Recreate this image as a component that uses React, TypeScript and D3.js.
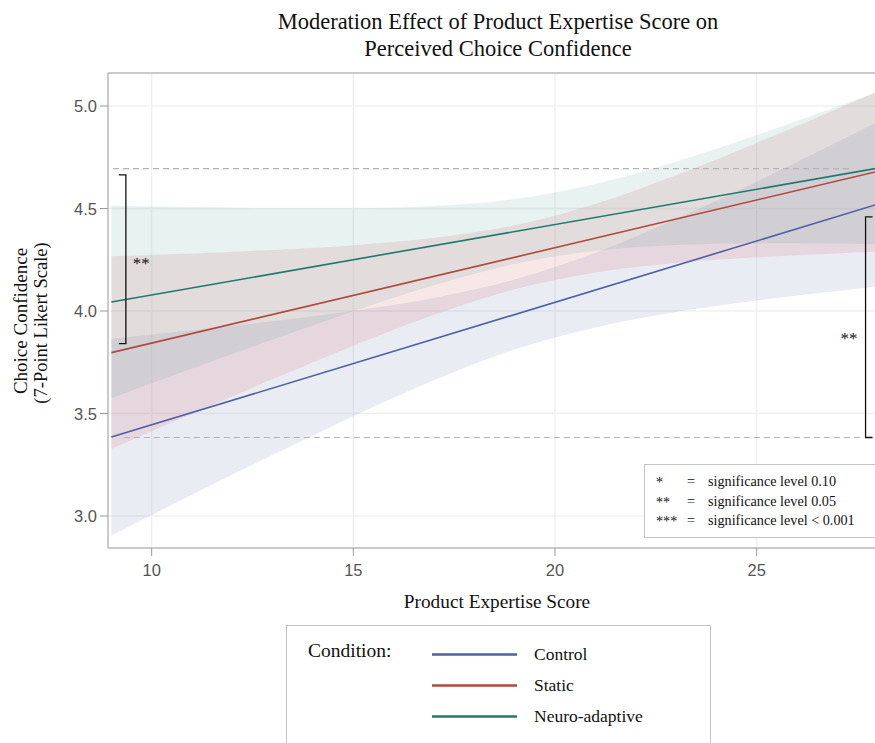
import React from "react";
import * as d3 from "d3";

const W = 875;
const H = 743;

// ---- data ----
const xTicks = [10, 15, 20, 25];
const yTicks = [3.0, 3.5, 4.0, 4.5, 5.0];

const fitX = [9, 28];
const controlFit = [3.385, 4.521];
const staticFit = [3.797, 4.681];
const neuroFit = [4.044, 4.697];

const bandX = [9, 11, 13, 15, 17, 19, 21, 23, 25, 27, 28];
const controlLower = [2.905, 3.104, 3.298, 3.487, 3.662, 3.812, 3.92, 3.995, 4.051, 4.098, 4.12];
const controlUpper = [3.865, 3.906, 3.95, 4.001, 4.064, 4.154, 4.284, 4.449, 4.631, 4.824, 4.922];
const staticLower = [3.327, 3.499, 3.668, 3.831, 3.982, 4.106, 4.188, 4.234, 4.262, 4.281, 4.29];
const staticUpper = [4.267, 4.281, 4.298, 4.321, 4.357, 4.418, 4.522, 4.662, 4.82, 4.987, 5.072];
const neuroLower = [3.574, 3.719, 3.861, 3.999, 4.126, 4.23, 4.294, 4.322, 4.33, 4.329, 4.326];
const neuroUpper = [4.514, 4.507, 4.501, 4.501, 4.512, 4.546, 4.62, 4.728, 4.858, 4.997, 5.068];

const conditions = ["Control", "Static", "Neuro-adaptive"];

const refLineY = [4.695, 3.383];
const refLineX0 = [9.04, 9.31];
const refLineX1 = [27.39, 27.56];

const bracketX = [9.36, 27.7];
const bracketTop = [4.664, 4.459];
const bracketBottom = [3.841, 3.383];
const bracketLabel = ["**", "**"];

const sigSymbols = ["*", "**", "***"];
const sigTexts = ["significance level 0.10", "significance level 0.05", "significance level < 0.001"];

// ---- styles ----
const lineColors = ["#4e5fa8", "#b0493d", "#1f7a6c"];
const fillColors = ["#6F7EB3", "#D05B5B", "#66A5A0"];
const SERIF = "'Liberation Serif', 'Times New Roman', serif";
const SANS = "'Liberation Sans', Arial, sans-serif";

export default function App() {
  const L = 108, R = 875, T = 73, B = 548;
  const x = d3.scaleLinear().domain([8.917, 27.934]).range([L, R]);
  const y = d3.scaleLinear().domain([2.844, 5.161]).range([B, T]);

  const bands = [
    { lo: controlLower, hi: controlUpper },
    { lo: staticLower, hi: staticUpper },
    { lo: neuroLower, hi: neuroUpper },
  ];
  const fits = [controlFit, staticFit, neuroFit];

  const area = d3
    .area<number>()
    .x((_, i) => x(bandX[i]))
    .curve(d3.curveMonotoneX);

  const line = d3
    .line<number>()
    .x((_, i) => x(fitX[i]))
    .y((v) => y(v));

  return (
    <svg
      width={W}
      height={H}
      style={{ position: "absolute", left: 0, top: 0, background: "#fff" }}
    >
      <defs>
        <clipPath id="plotclip">
          <rect x={L} y={T} width={R - L} height={B - T} />
        </clipPath>
      </defs>

      {/* title */}
      <text x={498} y={29} textAnchor="middle" fontFamily={SERIF} fontSize={22.5} fill="#111">
        Moderation Effect of Product Expertise Score on
      </text>
      <text x={498} y={56} textAnchor="middle" fontFamily={SERIF} fontSize={22.5} fill="#111">
        Perceived Choice Confidence
      </text>

      {/* grid */}
      <g stroke="#f0f0f2" strokeWidth={1.5}>
        {yTicks.map((t) => (
          <line key={"gy" + t} x1={L} x2={R} y1={y(t)} y2={y(t)} />
        ))}
        {xTicks.map((t) => (
          <line key={"gx" + t} x1={x(t)} x2={x(t)} y1={T} y2={B} />
        ))}
      </g>

      {/* bands */}
      <g clipPath="url(#plotclip)">
        {bands.map((b, k) => (
          <path
            key={"band" + k}
            d={
              area
                .y0((_, i) => y(b.lo[i]))
                .y1((_, i) => y(b.hi[i]))(bandX) as string
            }
            fill={fillColors[k]}
            fillOpacity={0.15}
            stroke="none"
          />
        ))}
      </g>

      {/* reference dashed lines */}
      {refLineY.map((v, i) => (
        <line
          key={"ref" + i}
          x1={x(refLineX0[i])}
          x2={x(refLineX1[i])}
          y1={y(v)}
          y2={y(v)}
          stroke="#b4b4b4"
          strokeWidth={1.2}
          strokeDasharray="6,4"
        />
      ))}

      {/* fit lines */}
      <g clipPath="url(#plotclip)">
        {fits.map((f, k) => (
          <path
            key={"fit" + k}
            d={line(f) as string}
            fill="none"
            stroke={lineColors[k]}
            strokeWidth={1.6}
          />
        ))}
      </g>

      {/* frame */}
      <g stroke="#b8b8b8" strokeWidth={1.5} fill="none">
        <line x1={L} x2={R} y1={T} y2={T} />
        <line x1={L} x2={L} y1={T} y2={B} />
        <line x1={L} x2={R} y1={B} y2={B} />
      </g>

      {/* y axis ticks */}
      {yTicks.map((t) => (
        <g key={"yt" + t}>
          <line x1={L - 8} x2={L} y1={y(t)} y2={y(t)} stroke="#999" strokeWidth={1} />
          <text
            x={L - 11}
            y={y(t) + 6}
            textAnchor="end"
            fontFamily={SANS}
            fontSize={16.5}
            fill="#555"
          >
            {t.toFixed(1)}
          </text>
        </g>
      ))}

      {/* x axis ticks */}
      {xTicks.map((t) => (
        <g key={"xt" + t}>
          <line x1={x(t)} x2={x(t)} y1={B} y2={B + 8} stroke="#999" strokeWidth={1} />
          <text
            x={x(t)}
            y={B + 28}
            textAnchor="middle"
            fontFamily={SANS}
            fontSize={16.5}
            fill="#555"
          >
            {t}
          </text>
        </g>
      ))}

      {/* axis titles */}
      <text x={497} y={608} textAnchor="middle" fontFamily={SERIF} fontSize={19.3} fill="#111">
        Product Expertise Score
      </text>
      <text
        transform={`translate(27,321) rotate(-90)`}
        textAnchor="middle"
        fontFamily={SERIF}
        fontSize={19}
        fill="#111"
      >
        Choice Confidence
      </text>
      <text
        transform={`translate(47,323) rotate(-90)`}
        textAnchor="middle"
        fontFamily={SERIF}
        fontSize={18.5}
        fill="#111"
      >
        (7-Point Likert Scale)
      </text>

      {/* brackets */}
      {bracketX.map((bx, i) => {
        const px = x(bx);
        const dir = i === 0 ? -1 : 1;
        const y0 = y(bracketTop[i]);
        const y1 = y(bracketBottom[i]);
        const mid = (y0 + y1) / 2;
        return (
          <g key={"br" + i}>
            <path
              d={`M${px + dir * 7},${y0}H${px}V${y1}H${px + dir * 7}`}
              fill="none"
              stroke="#111"
              strokeWidth={1.3}
            />
            <text
              x={i === 0 ? px + 7 : px - 8}
              y={i === 0 ? mid + 10 : mid + 17}
              textAnchor={i === 0 ? "start" : "end"}
              fontFamily={SERIF}
              fontSize={17}
              fill="#111"
            >
              {bracketLabel[i]}
            </text>
          </g>
        );
      })}

      {/* significance box */}
      <rect x={644.5} y={464.5} width={240} height={73} fill="#fff" stroke="#c4c4c4" strokeWidth={1} />
      {sigSymbols.map((s, i) => (
        <g key={"sig" + i} fontFamily={SERIF} fontSize={14.2} fill="#111">
          <text x={656} y={487 + i * 19.5}>{s}</text>
          <text x={687} y={486 + i * 19.5}>=</text>
          <text x={708} y={486 + i * 19.5}>{sigTexts[i]}</text>
        </g>
      ))}

      {/* legend */}
      <rect x={286.5} y={625.5} width={424} height={140} fill="#fff" stroke="#c4c4c4" strokeWidth={1} />
      <text x={308} y={657} fontFamily={SERIF} fontSize={19.5} fill="#111">
        Condition:
      </text>
      {conditions.map((c, i) => (
        <g key={"leg" + i}>
          <line
            x1={432}
            x2={517}
            y1={654.5 + i * 31}
            y2={654.5 + i * 31}
            stroke={lineColors[i]}
            strokeWidth={2.6}
          />
          <text x={534} y={660 + i * 31} fontFamily={SERIF} fontSize={17.5} fill="#111">
            {c}
          </text>
        </g>
      ))}
    </svg>
  );
}
